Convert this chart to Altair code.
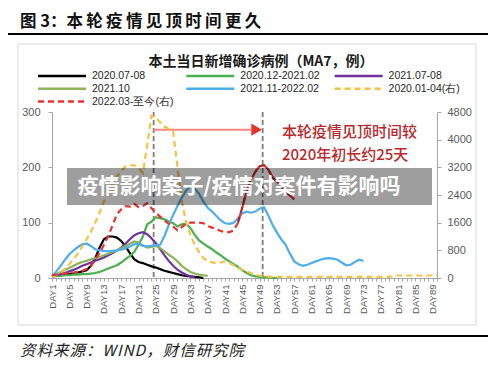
import altair as alt
import pandas as pd

# ---------------- data ----------------
series_names = ["2020.07-08", "2020.12-2021.02", "2021.07-08",
                "2021.10", "2021.11-2022.02", "2020.01-04(右)", "2022.03-至今(右)"]
series_colors = ["#000000", "#4CAF50", "#7030A0",
                 "#8DB458", "#4DAEEA", "#F7C244", "#EE3030"]
right_names = ["2020.01-04(右)", "2022.03-至今(右)"]

# left axis (cases)
v_2020_0708 = [3, 4, 5, 6, 7, 9, 10, 12, 14, 22, 36, 55, 70, 75, 75, 73, 67, 57, 45, 34,
               29, 27, 24, 21, 19, 16, 13, 11, 9, 7, 5, 4, 3, 2, 1, 0]
v_2020_12_2021_02 = [3, 4, 4, 5, 5, 6, 6, 7, 7, 8, 9, 11, 14, 17, 20, 23, 28, 34, 40, 47,
                     60, 75, 97, 102, 110, 108, 106, 102, 99, 93, 97, 98, 90, 78, 68, 62, 57, 52, 46, 41,
                     35, 30, 25, 20, 14, 9, 5, 3, 2, 1, 1, 0, 0]
v_2021_0708 = [3, 5, 7, 9, 12, 15, 18, 22, 25, 28, 31, 34, 37, 41, 45, 50, 55, 62, 70, 77,
               81, 83, 79, 72, 63, 52, 41, 31, 22, 15, 10, 6, 3, 1]
v_2021_10 = [3, 7, 11, 15, 18, 22, 26, 29, 31, 34, 36, 38, 41, 44, 47, 50, 54, 58, 62, 66,
             64, 59, 55, 56, 58, 54, 48, 42, 37, 30, 22, 16, 11, 8, 6, 5, 4]
v_2021_11_2022_02 = [3, 12, 22, 33, 43, 50, 56, 61, 62, 58, 52, 50, 49, 48, 49, 50, 51, 54, 57, 61,
                     62, 58, 57, 58, 59, 60, 76, 96, 114, 130, 145, 158, 166, 162, 152, 138, 127, 120, 112, 104,
                     99, 98, 100, 108, 117, 120, 118, 120, 125, 128, 113, 96, 82, 70, 60, 44, 30, 25, 22, 24,
                     27, 30, 33, 35, 36, 35, 33, 28, 23, 24, 29, 33, 31]
# right axis (cases)
v_2020_01_04 = ([32, 80, 160, 270, 400, 540, 720, 910, 1120, 1340, 1600, 1890, 2210, 2480, 2720,
                 2930, 3100, 3230, 3260, 3260, 3170, 3040, 3840, 4690, 4640, 4500, 4380, 4300, 4240, 3200,
                 2240, 1600, 1250, 960, 750, 580, 480, 450, 430, 450, 480, 430, 370, 290, 240,
                 190, 140, 100, 64, 48, 40, 32]
                + [30] * 27 + [72] * 11)
v_2022_03_now = [80, 96, 112, 128, 144, 160, 176, 208, 256, 352, 528, 720, 960, 1216, 1520,
                 1840, 1984, 2080, 2064, 2144, 2048, 2080, 2160, 2016, 1888, 1776, 1664, 1568, 1488, 1376,
                 1472, 1568, 1600, 1600, 1600, 1584, 1504, 1456, 1408, 1360, 1328, 1328, 1376, 1600, 2048,
                 2512, 2848, 3072, 3232, 3264, 3136, 2912, 2784, 2656, 2512, 2384, 2272]

series_values = [v_2020_0708, v_2020_12_2021_02, v_2021_0708, v_2021_10,
                 v_2021_11_2022_02, v_2020_01_04, v_2022_03_now]

x_tick_days = list(range(1, 91))          # DAY1 ... DAY90
left_ticks = [0, 100, 200, 300]
right_ticks = [0, 800, 1600, 2400, 3200, 4000, 4800]
peak_days = [24.5, 49.7]                   # dashed "peak" markers
arrow = {"x1": [24.5], "x2": [47.0], "xh": [48.3], "y": [268]}
highlight_from_day = 44                    # darker red segment of 2022 series

rows = []
for name, vals in zip(series_names, series_values):
    for i, v in enumerate(vals):
        rows.append({"series": name, "day": i + 1, "value": v})
df = pd.DataFrame(rows)
df_left = df[~df.series.isin(right_names)]
df_right = df[df.series.isin(right_names)]
df_dark = df[(df.series == "2022.03-至今(右)") & (df.day >= highlight_from_day)]

HS = "\u200a"  # hair space
TS = "\u2009"  # thin space
def spaced(s, sep=HS):
    return sep.join(list(s))

# ---------------- scales / axes ----------------
CJK = "Noto Sans CJK SC"
x_scale = alt.Scale(domain=[1, 90], nice=False, zero=False)
x_axis = alt.Axis(values=x_tick_days, title=None, labelAngle=-90,
                  labelExpr="(datum.value - 1) % 4 == 0 ? 'DAY' + datum.value : ''",
                  tickSize=3, labelFontSize=9.5, labelPadding=3,
                  labelOverlap=False, labelFlush=False, labelBound=False)
yl_scale = alt.Scale(domain=[0, 300], nice=False)
yl_axis = alt.Axis(values=left_ticks, title=None, tickSize=4, labelPadding=8,
                   labelFontSize=11, format="d")
yr_scale = alt.Scale(domain=[0, 4800], nice=False)
yr_axis = alt.Axis(values=right_ticks, title=None, orient="right", tickSize=4,
                   labelPadding=6, labelFontSize=11, format="d")
color_scale = alt.Scale(domain=series_names, range=series_colors)

X = lambda f: alt.X(f, scale=x_scale, axis=x_axis)
YL = lambda f: alt.Y(f, scale=yl_scale, axis=yl_axis)
YR = lambda f: alt.Y(f, scale=yr_scale, axis=yr_axis)


def txt(s, x, y, **kw):
    return alt.Chart(pd.DataFrame({"t": [s]})).mark_text(**kw).encode(
        x=alt.value(x), y=alt.value(y), text="t:N")


# ---------------- left group ----------------
left_layers = []
left_layers.append(
    alt.Chart(pd.DataFrame({"t": [0]})).mark_rect(
        fill=None, stroke="#D9D9D9", strokeWidth=1).encode(
        x=alt.value(-34), x2=alt.value(424), y=alt.value(-68), y2=alt.value(213)))
left_layers.append(
    alt.Chart(pd.DataFrame({"day": peak_days})).mark_rule(
        color="#7F7F7F", strokeDash=[5, 3], strokeWidth=1.8).encode(x=X("day:Q")))
left_layers.append(
    alt.Chart(df_left).mark_line(strokeWidth=2.2).encode(
        x=X("day:Q"), y=YL("value:Q"),
        color=alt.Color("series:N", scale=color_scale, legend=None)))
adf = pd.DataFrame(arrow)
left_layers.append(
    alt.Chart(adf).mark_rule(color="#F4877F", strokeWidth=2).encode(
        x=X("x1:Q"), x2="x2:Q", y=YL("y:Q")))
left_layers.append(
    alt.Chart(adf).mark_point(shape="triangle-right", filled=True, color="#E8322A",
                              size=150, opacity=1).encode(x=X("xh:Q"), y=YL("y:Q")))
left_layers.append(txt("本轮疫情见顶时间较", 230, 20, align="left", baseline="middle",
                       font=CJK, fontSize=15, fontWeight=500, color="#B8282C"))
left_layers.append(txt("2020年初长约25天", 230, 43, align="left", baseline="middle",
                       font=CJK, fontSize=15, fontWeight=500, color="#B8282C"))

# legend (manual, 3 columns)
for i, name in enumerate(series_names):
    col, row = i % 3, i // 3
    x0 = -14 + col * 148.3
    y0 = -36 + row * 12.75
    dash = [6, 4] if name in right_names else [1, 0]
    d1 = pd.DataFrame({"series": [name]})
    left_layers.append(
        alt.Chart(d1).mark_rule(strokeWidth=2.5, strokeDash=dash).encode(
            x=alt.value(x0), x2=alt.value(x0 + 48), y=alt.value(y0),
            color=alt.Color("series:N", scale=color_scale, legend=None)))
    left_layers.append(
        alt.Chart(d1).mark_text(align="left", baseline="middle", fontSize=10.5,
                                font="Liberation Sans", color="#262626").encode(
            x=alt.value(x0 + 54), y=alt.value(y0), text="series:N"))

# titles, rules, source
left_layers.append(txt("本土当日新增确诊病例（MA7，例）", 209, -50, align="center",
                       baseline="middle", font=CJK, fontSize=14, fontWeight="bold",
                       color="#1A1A1A"))
left_layers.append(txt("图 3：" + spaced("本轮疫情见顶时间更久", TS), -32, -90.5, align="left",
                       baseline="middle", font=CJK, fontSize=16.5, fontWeight="bold",
                       color="#111111"))
left_layers.append(txt(spaced("资料来源：WIND，财信研究院"), -32, 239, align="left",
                       baseline="middle", font=CJK, fontSize=15.5, fontStyle="italic",
                       color="#222222"))
for yy in (-78, 224):
    left_layers.append(
        alt.Chart(pd.DataFrame({"t": [0]})).mark_rule(color="#000000", strokeWidth=2).encode(
            x=alt.value(-44), x2=alt.value(436), y=alt.value(yy)))

left = alt.layer(*left_layers)

# ---------------- right group ----------------
right_layers = [
    alt.Chart(df_right).mark_line(strokeWidth=2.2, strokeDash=[6, 4]).encode(
        x=X("day:Q"), y=YR("value:Q"),
        color=alt.Color("series:N", scale=color_scale, legend=None)),
    alt.Chart(df_dark).mark_line(strokeWidth=2.2, strokeDash=[6, 4], color="#B02424").encode(
        x=X("day:Q"), y=YR("value:Q")),
    alt.Chart(pd.DataFrame({"t": [0]})).mark_rect(fill="#000000", opacity=0.38).encode(
        x=alt.value(15), x2=alt.value(380), y=alt.value(56), y2=alt.value(93)),
    txt("疫情影响案子/疫情对案件有影响吗", 187, 74.5, align="center", baseline="middle",
        font=CJK, fontSize=21, fontWeight="bold", color="#FFFFFF"),
]
right = alt.layer(*right_layers)

chart = alt.layer(left, right).resolve_scale(y="independent").properties(
    width=385, height=166,
    padding={"left": 44, "top": 104, "right": 55, "bottom": 87},
    autosize=alt.AutoSizeParams(type="none"),
    background="#FFFFFF",
).configure_view(stroke=None).configure_axis(
    grid=False, labelFont="Liberation Sans", labelColor="#595959",
    domainColor="#A6A6A6", tickColor="#A6A6A6", domainWidth=1)

chart.save("out.html", embed_options={"renderer": "svg", "actions": False})
